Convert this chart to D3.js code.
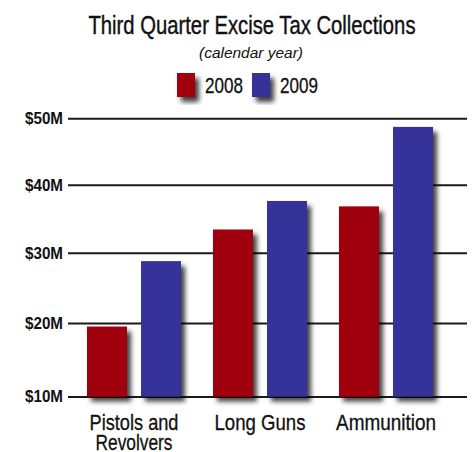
<!DOCTYPE html>
<html>
<head>
<meta charset="utf-8">
<script src="https://cdn.jsdelivr.net/npm/d3@7"></script>
<style>
  body { margin: 0; background: #fff; }
  svg text { font-family: 'Liberation Sans', Arial, sans-serif; fill: #111; }
</style>
</head>
<body>
<svg id="canvas" width="474" height="452"></svg>
<script>
let categories = [['Pistols and', 'Revolvers'], ['Long Guns'], ['Ammunition']]
let years = ['2008', '2009']
let values2008 = [19.5, 33.4, 36.8]
let values2009 = [28.8, 37.6, 48.7]
let tickValues = [10, 20, 30, 40, 50]

let colors = { '2008': '#a0000c', '2009': '#353399' }

let canvas = d3.select('#canvas')

// narrow look: squeeze the regular sans to the widths seen in the original
let narrow = (sel, width) => sel.attr('textLength', width).attr('lengthAdjust', 'spacingAndGlyphs')

let defs = canvas.append('defs')
defs.append('filter')
    .attr('id', 'shadow')
    .attr('x', '-30%').attr('y', '-20%')
    .attr('width', '180%').attr('height', '150%')
    .append('feDropShadow')
    .attr('dx', 4).attr('dy', 5)
    .attr('stdDeviation', 2.4)
    .attr('flood-color', '#000')
    .attr('flood-opacity', 0.75)

let xScale = d3.scaleBand()
    .domain(d3.range(categories.length))
    .range([71, 449])
    .paddingInner(0.254)
    .paddingOuter(0.127)

let xInner = d3.scaleBand()
    .domain(years)
    .range([0, xScale.bandwidth()])
    .paddingInner(0.26)

// the original axis is slightly compressed toward the top
let yScale = d3.scalePow()
    .exponent(0.91)
    .domain([10, 50])
    .range([396.5, 118.3])

// title
canvas.append('text')
    .attr('x', 252).attr('y', 34)
    .attr('text-anchor', 'middle')
    .style('font-size', '25px')
    .attr('stroke', '#111').attr('stroke-width', 0.4)
    .text('Third Quarter Excise Tax Collections')
    .call(narrow, 327)

canvas.append('text')
    .attr('x', 251).attr('y', 58)
    .attr('text-anchor', 'middle')
    .style('font-size', '15px')
    .style('font-style', 'italic')
    .text('(calendar year)')
    .call(narrow, 104)

// legend
let legendX = { '2008': 177, '2009': 252 }
years.forEach((year) => {
    canvas.append('rect')
        .attr('x', legendX[year]).attr('y', 73)
        .attr('width', 18).attr('height', 24)
        .attr('fill', colors[year])
        .attr('filter', 'url(#shadow)')
    canvas.append('text')
        .attr('x', legendX[year] + 28).attr('y', 93)
        .style('font-size', '22px')
        .attr('stroke', '#111').attr('stroke-width', 0.3)
        .text(year)
        .call(narrow, 38)
})

// gridlines + y labels
let yAxis = d3.axisLeft(yScale)
    .tickValues(tickValues)
    .tickSize(-(467 - 68))
    .tickPadding(5)
    .tickFormat((d) => '$' + d + 'M')

let axisG = canvas.append('g')
    .attr('transform', 'translate(68,0)')
    .call(yAxis)
axisG.select('.domain').remove()
axisG.selectAll('.tick line')
    .attr('stroke', '#1a1a1a')
    .attr('stroke-width', 2)
axisG.selectAll('.tick text')
    .style('font-size', '17px')
    .style('font-weight', 'bold')
    .style('font-family', "'Liberation Sans', Arial, sans-serif")
    .attr('fill', '#111')
    .call(narrow, 38)

// bars
let groups = canvas.selectAll('.group')
    .data(categories.map((c, i) => ({ i: i, vals: [values2008[i], values2009[i]] })))
    .enter()
    .append('g')
    .attr('class', 'group')
    .attr('transform', (d) => `translate(${xScale(d.i)},0)`)

groups.selectAll('rect')
    .data((d) => years.map((y, j) => ({ year: y, value: d.vals[j] })))
    .enter()
    .append('rect')
    .attr('x', (d) => xInner(d.year))
    .attr('y', (d) => yScale(d.value))
    .attr('width', xInner.bandwidth())
    .attr('height', (d) => yScale(10) - yScale(d.value))
    .attr('fill', (d) => colors[d.year])
    .attr('filter', 'url(#shadow)')

// category labels, one text per line
let labelWidths = [[89, 77], [91], [100]]
categories.forEach((lines, i) => {
    lines.forEach((line, k) => {
        canvas.append('text')
            .attr('text-anchor', 'middle')
            .attr('x', xScale(i) + xScale.bandwidth() / 2)
            .attr('y', 430 + k * 20)
            .style('font-size', '22px')
            .attr('stroke', '#111').attr('stroke-width', 0.3)
            .text(line)
            .call(narrow, labelWidths[i][k])
    })
})
</script>
</body>
</html>
